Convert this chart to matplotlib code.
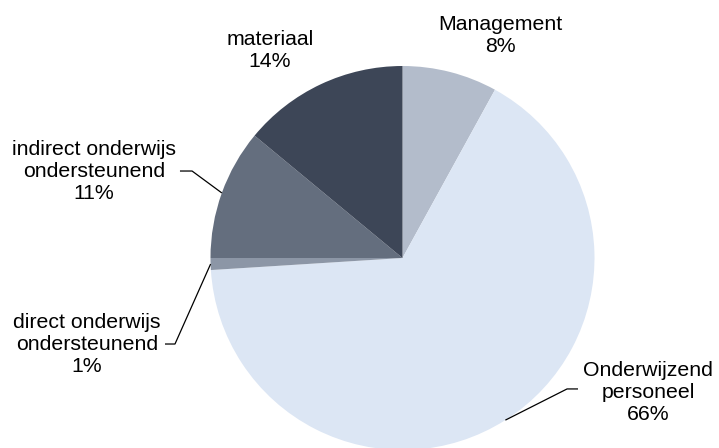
import numpy as np
import matplotlib
matplotlib.use("Agg")
import matplotlib.pyplot as plt

plt.rcParams['font.family'] = ['Liberation Sans', 'DejaVu Sans']

# Cost shares (percent), clockwise from the top
categories = ["Management", "Onderwijzend\npersoneel", "direct onderwijs\nondersteunend",
              "indirect onderwijs\nondersteunend", "materiaal"]
shares = [8, 66, 1, 11, 14]
colors = ["#b3bccb", "#dce6f4", "#8c96a6", "#646e7e", "#3d4657"]

# Label text centres (data units, pie radius = 1) and leader elbows
label_pos = [(0.508, 1.161), (1.279, -0.698), (-1.643, -0.453), (-1.607, 0.453), (-0.690, 1.083)]
leader = {1: [(0.914, -0.682), (0.857, -0.682)],
          2: [(-1.237, -0.448), (-1.185, -0.448)],
          3: [(-1.159, 0.453), (-1.096, 0.453)]}

W, H, DPI = 719, 448, 100
fig = plt.figure(figsize=(W / DPI, H / DPI), dpi=DPI)
cx, cy, r = 402.5, 258.0, 192.0
ax = fig.add_axes([(cx - r) / W, (H - cy - r) / H, 2 * r / W, 2 * r / H])
ax.set_xlim(-1, 1)
ax.set_ylim(-1, 1)
ax.set_aspect('equal')
ax.axis('off')

wedges, _ = ax.pie(shares, colors=colors, startangle=90, counterclock=False,
                   radius=1, center=(0, 0), frame=False,
                   wedgeprops=dict(linewidth=0))
ax.set_xlim(-1, 1)
ax.set_ylim(-1, 1)

for i, (w, name, val) in enumerate(zip(wedges, categories, shares)):
    tx, ty = label_pos[i]
    ax.text(tx, ty, f"{name}\n{val}%", ha='center', va='center', fontsize=15.3,
            color='#000000', linespacing=1.2, clip_on=False)
    if i in leader:
        mid = np.deg2rad((w.theta1 + w.theta2) / 2)
        ex, ey = np.cos(mid), np.sin(mid)
        (ax0, ay0), (ax1, ay1) = leader[i]
        ax.plot([ax0, ax1, ex], [ay0, ay1, ey], color='#000000', lw=0.9,
                clip_on=False, solid_capstyle='butt')

fig.savefig("out.png", dpi=DPI, facecolor='white')
